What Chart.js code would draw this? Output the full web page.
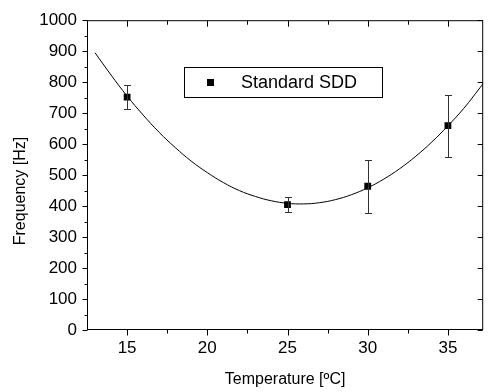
<!DOCTYPE html>
<html>
<head>
<meta charset="utf-8">
<script src="https://cdn.jsdelivr.net/npm/chart.js@4.4.0/dist/chart.umd.min.js"></script>
<style>
  body { margin: 0; background: #fff; }
  canvas { display: block; }
</style>
</head>
<body>
<canvas id="chart" width="488" height="392"></canvas>
<script>
// Measured points (Standard SDD)
const temps = [15, 25, 30, 35];
const freq = [752, 405, 464, 660];
const errs = [38, 25, 85, 100];

// Fitted curve
const fitX = [13, 14, 15, 16, 17, 18, 19, 20, 21, 22, 23, 24, 25, 26, 27, 28, 29, 30, 31, 32, 33, 34, 35, 36, 37, 37.2];
const fitY = [895, 823, 755, 694, 638, 589, 545, 508, 476, 450, 431, 417, 409, 407, 411, 421, 437, 459, 487, 521, 561, 607, 659, 716, 782, 796];

// Axis ticks
const xTicks = [15, 20, 25, 30, 35];
const xMinor = [17.5, 22.5, 27.5, 32.5];
const yTicks = [0, 100, 200, 300, 400, 500, 600, 700, 800, 900, 1000];
const yMinor = [50, 150, 250, 350, 450, 550, 650, 750, 850, 950];

const FONT = "'Liberation Sans', Arial, Helvetica, sans-serif";

// Error bars drawn through the y scale
const errorBars = {
    id: 'errorBars',
    afterDatasetsDraw(chart) {
        const { ctx, scales: { x, y } } = chart;
        ctx.save();
        ctx.strokeStyle = '#333';
        ctx.lineWidth = 1;
        temps.forEach((t, i) => {
            const px = Math.round(x.getPixelForValue(t)) + 0.5;
            const top = Math.round(y.getPixelForValue(freq[i] + errs[i])) + 0.5;
            const bot = Math.round(y.getPixelForValue(freq[i] - errs[i])) + 0.5;
            ctx.beginPath();
            ctx.moveTo(px, top); ctx.lineTo(px, bot);
            ctx.moveTo(px - 3.5, top); ctx.lineTo(px + 3.5, top);
            ctx.moveTo(px - 3.5, bot); ctx.lineTo(px + 3.5, bot);
            ctx.stroke();
        });
        ctx.restore();
    }
};

// Box frame, tick marks, legend and y title
const frame = {
    id: 'frame',
    afterDraw(chart) {
        const { ctx, chartArea: a, scales: { x, y } } = chart;
        const L = a.left + 0.5, R = a.right - 0.5, T = a.top + 0.5, B = a.bottom - 0.5;
        ctx.save();
        ctx.strokeStyle = '#000';
        ctx.lineWidth = 1;
        ctx.strokeRect(L, T, R - L, B - T);

        ctx.beginPath();
        xTicks.forEach(v => {
            const px = Math.round(x.getPixelForValue(v)) + 0.5;
            ctx.moveTo(px, B); ctx.lineTo(px, B + 6);
            ctx.moveTo(px, T); ctx.lineTo(px, T + 6);
        });
        xMinor.forEach(v => {
            const px = Math.round(x.getPixelForValue(v)) + 0.5;
            ctx.moveTo(px, B); ctx.lineTo(px, B + 4);
            ctx.moveTo(px, T); ctx.lineTo(px, T + 4);
        });
        yTicks.forEach(v => {
            const py = Math.round(y.getPixelForValue(v)) + 0.5;
            ctx.moveTo(L, py); ctx.lineTo(L - 5, py);
            ctx.moveTo(R, py); ctx.lineTo(R - 5, py);
        });
        yMinor.forEach(v => {
            const py = Math.round(y.getPixelForValue(v)) + 0.5;
            ctx.moveTo(L, py); ctx.lineTo(L - 3, py);
        });
        ctx.stroke();

        // legend box
        ctx.strokeRect(184.5, 67.5, 198, 30);
        ctx.fillStyle = '#000';
        ctx.fillRect(207, 79, 7, 7);
        ctx.font = '18px ' + FONT;
        ctx.textBaseline = 'middle';
        ctx.textAlign = 'left';
        ctx.fillText(chart.data.datasets[0].label, 241, 83);

        // y axis title
        ctx.translate(21, 191);
        ctx.rotate(-Math.PI / 2);
        ctx.textAlign = 'center';
        ctx.font = '16px ' + FONT;
        ctx.fillText('Frequency [Hz]', 0, 0);
        ctx.restore();
    }
};

new Chart(document.getElementById('chart').getContext('2d'), {
    data: {
        datasets: [{
            type: 'scatter',
            label: 'Standard SDD',
            data: temps.map((t, i) => ({ x: t, y: freq[i] })),
            pointStyle: 'rect',
            pointRadius: 4.8,
            backgroundColor: '#000',
            borderColor: '#000',
            borderWidth: 0,
            order: 0
        }, {
            type: 'line',
            label: 'fit',
            data: fitX.map((t, i) => ({ x: t, y: fitY[i] })),
            borderColor: '#000',
            borderWidth: 1,
            pointRadius: 0,
            tension: 0.4,
            fill: false,
            order: 1
        }]
    },
    options: {
        responsive: false,
        animation: false,
        layout: { padding: { top: 19, right: 1, left: 0, bottom: 0 } },
        plugins: {
            legend: { display: false },
            tooltip: { enabled: false }
        },
        scales: {
            x: {
                type: 'linear',
                min: 12.5,
                max: 37.2,
                afterFit: s => { s.height = 62; },
                afterBuildTicks: s => { s.ticks = xTicks.map(v => ({ value: v })); },
                grid: { display: false, drawTicks: false },
                border: { display: false },
                ticks: { color: '#000', padding: 8, maxRotation: 0, font: { family: FONT, size: 17 }, callback: v => String(v) },
                title: {
                    display: true,
                    text: 'Temperature [ºC]',
                    color: '#000',
                    font: { family: FONT, size: 16 },
                    padding: { top: 0, bottom: 3 }
                }
            },
            y: {
                type: 'linear',
                min: 0,
                max: 1000,
                afterFit: s => { s.width = 87; },
                afterBuildTicks: s => { s.ticks = yTicks.map(v => ({ value: v })); },
                grid: { display: false, drawTicks: false },
                border: { display: false },
                ticks: { color: '#000', padding: 10, font: { family: FONT, size: 17 }, callback: v => String(v) }
            }
        }
    },
    plugins: [errorBars, frame]
});
</script>
</body>
</html>
